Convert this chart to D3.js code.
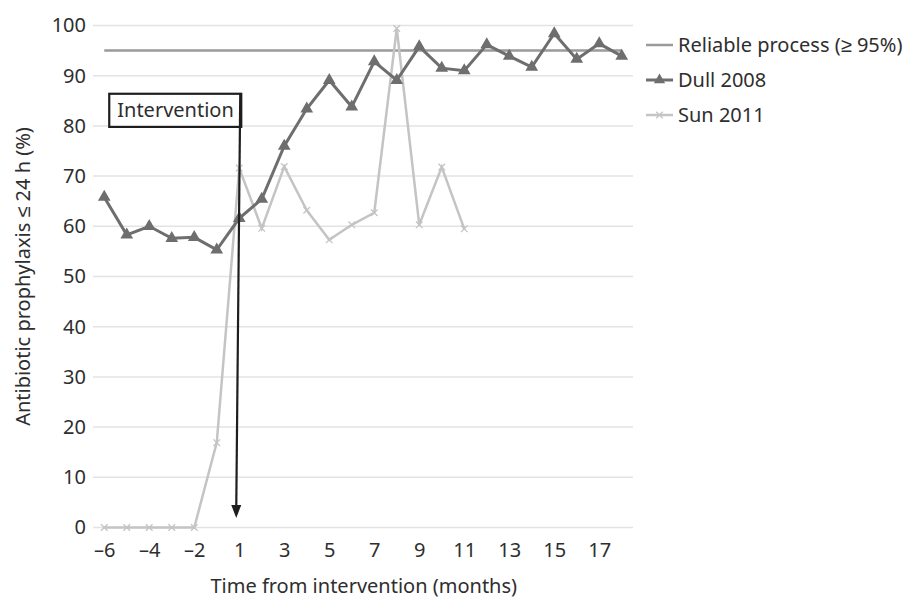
<!DOCTYPE html>
<html>
<head>
<meta charset="utf-8">
<script src="https://cdn.jsdelivr.net/npm/d3@7"></script>
<style>
  body { margin: 0; background: #fff; }
  text { font-family: "Noto Sans", sans-serif; fill: #2e2e2e; }
</style>
</head>
<body>
<svg id="chart" width="907" height="601"></svg>
<script>
// months from intervention (there is no month 0)
const months = [-6, -5, -4, -3, -2, -1, 1, 2, 3, 4, 5, 6, 7, 8, 9, 10, 11, 12, 13, 14, 15, 16, 17, 18];
const tickMonths = [-6, -4, -2, 1, 3, 5, 7, 9, 11, 13, 15, 17];
const yTicks = [0, 10, 20, 30, 40, 50, 60, 70, 80, 90, 100];

const reliable = 95;
const dull2008 = [65.8, 58.3, 60.0, 57.6, 57.8, 55.3, 61.6, 65.4, 76.0, 83.4, 89.1, 83.8,
                  92.8, 89.1, 95.8, 91.5, 91.0, 96.2, 93.9, 91.7, 98.4, 93.3, 96.4, 93.9];
const sun2011 = [0, 0, 0, 0, 0, 16.9, 71.6, 59.6, 71.9, 63.2, 57.3, 60.3,
                 62.7, 99.4, 60.3, 71.8, 59.5];

const legendItems = ["Reliable process (\u2265 95%)", "Dull 2008", "Sun 2011"];

const colour = { grid: "#e3e3e3", reliable: "#9a9a9a", dull: "#6e6e6e", sun: "#c4c4c4", ink: "#1e1e1e" };
const fontSize = "20px";

const svg = d3.select("#chart");
const plot = { left: 93, right: 633, top: 25.5, bottom: 527.5 };

const x = d3.scalePoint().domain(months).range([plot.left, plot.right]).padding(0.5);
const y = d3.scaleLinear().domain([0, 100]).range([plot.bottom, plot.top]);

// gridlines
svg.append("g")
    .selectAll("line")
    .data(yTicks)
    .join("line")
    .attr("x1", plot.left).attr("x2", plot.right)
    .attr("y1", d => y(d)).attr("y2", d => y(d))
    .attr("stroke", colour.grid)
    .attr("stroke-width", 1.5);

// y axis labels
const yAxis = svg.append("g")
    .attr("transform", `translate(${plot.left - 7},0)`)
    .call(d3.axisLeft(y).tickValues(yTicks).tickSize(0).tickPadding(0));
yAxis.select(".domain").remove();
yAxis.selectAll("text").attr("font-size", fontSize).style("font-family", "Noto Sans, sans-serif").attr("fill", "#2e2e2e");

// x axis labels
const xAxis = svg.append("g")
    .attr("transform", `translate(0,550)`)
    .call(d3.axisBottom(x).tickValues(tickMonths).tickSize(0).tickPadding(0)
        .tickFormat(d => d < 0 ? "\u2013" + Math.abs(d) : d));
xAxis.select(".domain").remove();
xAxis.selectAll("text").attr("font-size", fontSize).attr("dy", "0.35em").style("font-family", "Noto Sans, sans-serif").attr("fill", "#2e2e2e");

// axis titles
svg.append("text")
    .attr("x", (x(5) + x(7)) / 2 + 12)
    .attr("y", 593)
    .attr("text-anchor", "middle")
    .attr("font-size", fontSize)
    .text("Time from intervention (months)");

svg.append("text")
    .attr("transform", `translate(30,${(plot.top + plot.bottom) / 2}) rotate(-90)`)
    .attr("text-anchor", "middle")
    .attr("font-size", fontSize)
    .text("Antibiotic prophylaxis \u2264 24 h (%)");

// reliable process line
svg.append("line")
    .attr("x1", x(months[0])).attr("x2", x(months[months.length - 1]))
    .attr("y1", y(reliable)).attr("y2", y(reliable))
    .attr("stroke", colour.reliable)
    .attr("stroke-width", 2.5);

const line = d3.line().x(d => x(d[0])).y(d => y(d[1]));

// Sun 2011
const sunPts = sun2011.map((v, i) => [months[i], v]);
svg.append("path")
    .attr("d", line(sunPts))
    .attr("fill", "none")
    .attr("stroke", colour.sun)
    .attr("stroke-width", 2.5);
svg.append("g")
    .selectAll("path")
    .data(sunPts)
    .join("path")
    .attr("transform", d => `translate(${x(d[0])},${y(d[1])})`)
    .attr("d", d3.symbol(d3.symbolX, 30))
    .attr("fill", "none")
    .attr("stroke", colour.sun)
    .attr("stroke-width", 1.3);

// Dull 2008
const dullPts = dull2008.map((v, i) => [months[i], v]);
svg.append("path")
    .attr("d", line(dullPts))
    .attr("fill", "none")
    .attr("stroke", colour.dull)
    .attr("stroke-width", 3);
svg.append("g")
    .selectAll("path")
    .data(dullPts)
    .join("path")
    .attr("transform", d => `translate(${x(d[0])},${y(d[1])})`)
    .attr("d", d3.symbol(d3.symbolTriangle, 70))
    .attr("fill", colour.dull);

// intervention box and arrow
const boxLeft = x(-6) + 5, boxRight = x(1) + 2;
const boxTop = y(86.4), boxBottom = y(79.8);
svg.append("rect")
    .attr("x", boxLeft).attr("y", boxTop)
    .attr("width", boxRight - boxLeft).attr("height", boxBottom - boxTop)
    .attr("fill", "#fff")
    .attr("stroke", colour.ink)
    .attr("stroke-width", 2.2);
svg.append("text")
    .attr("x", boxLeft + 8)
    .attr("y", (boxTop + boxBottom) / 2)
    .attr("dy", "0.35em")
    .attr("font-size", fontSize)
    .text("Intervention");

const tipX = x(1) - 3, tipY = y(1.9);
svg.append("line")
    .attr("x1", boxRight - 1).attr("y1", boxTop)
    .attr("x2", tipX).attr("y2", tipY - 10)
    .attr("stroke", colour.ink)
    .attr("stroke-width", 2.2);
svg.append("path")
    .attr("d", `M${tipX - 5},${tipY - 13} L${tipX + 5},${tipY - 13} L${tipX},${tipY} Z`)
    .attr("fill", colour.ink);

// legend
const legend = svg.append("g").attr("transform", "translate(646,45)");
legendItems.forEach((name, i) => {
    const g = legend.append("g").attr("transform", `translate(0,${i * 35})`);
    const c = [colour.reliable, colour.dull, colour.sun][i];
    g.append("line")
        .attr("x1", 0).attr("x2", 27)
        .attr("stroke", c)
        .attr("stroke-width", i === 1 ? 3 : 2.5);
    if (i === 1) {
        g.append("path").attr("transform", "translate(13.5,0)")
            .attr("d", d3.symbol(d3.symbolTriangle, 55)).attr("fill", c);
    }
    if (i === 2) {
        g.append("path").attr("transform", "translate(13.5,0)")
            .attr("d", d3.symbol(d3.symbolX, 30)).attr("fill", "none")
            .attr("stroke", c).attr("stroke-width", 1.3);
    }
    g.append("text")
        .attr("x", 32)
        .attr("dy", "0.35em")
        .attr("font-size", fontSize)
        .text(name);
});
</script>
</body>
</html>
